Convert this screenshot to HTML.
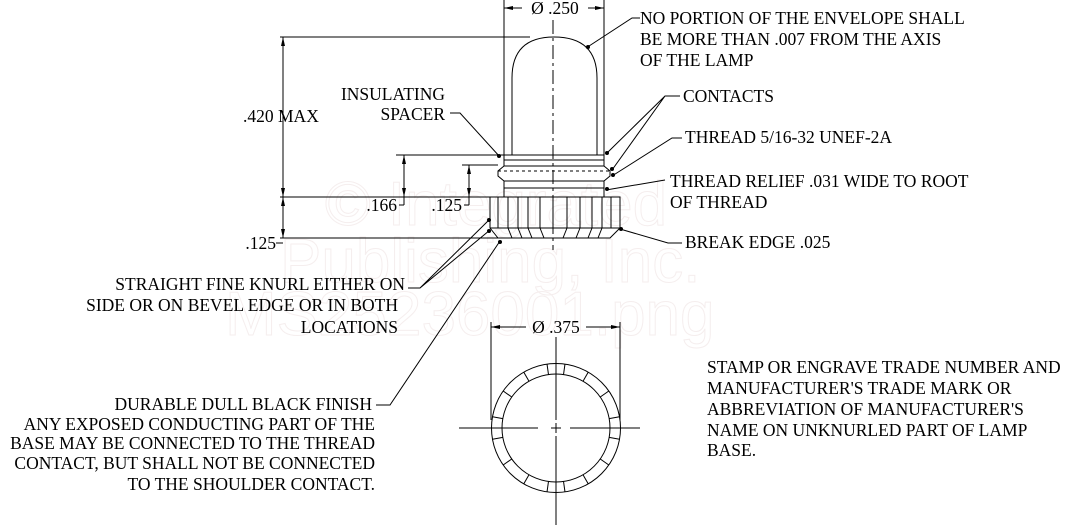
<!DOCTYPE html>
<html><head><style>
body{margin:0;background:#fff}
svg{display:block}
text{font-family:"Liberation Serif","Times New Roman","DejaVu Serif",serif;font-size:17.5px;fill:#000}
text.w{font-family:"Liberation Sans",sans-serif;font-size:62px;fill:none;stroke:#f5eeee;stroke-width:1}
</style></head><body>
<svg width="1071" height="525" viewBox="0 0 1071 525" xmlns="http://www.w3.org/2000/svg">
<text class="w" x="325" y="225">© Integrated</text><text class="w" x="280" y="282">Publishing, Inc.</text><text class="w" x="225" y="335">MS25236001.png</text>
<g stroke="#000" stroke-width="1" fill="none">
<line x1="504" y1="0" x2="504" y2="155"/><line x1="604" y1="0" x2="604" y2="155"/>
<line x1="504" y1="8" x2="522" y2="8"/><line x1="588" y1="8" x2="604" y2="8"/>
<path d="M512 155 L512 78 Q512 37 554 37 Q597 37 597 78 L597 155"/>
<line x1="553" y1="20" x2="553" y2="250" stroke-dasharray="14,4,3,4"/>
<rect x="504" y="155" width="100" height="11"/>
<line x1="504" y1="160" x2="604" y2="160"/>
<path d="M504 166 L498 171 L498 176 L504 181 L604 181 L610 176 L610 171 L604 166"/>
<line x1="498" y1="171" x2="610" y2="171" stroke-dasharray="3,3"/>
<line x1="504" y1="181" x2="504" y2="197"/><line x1="604" y1="181" x2="604" y2="197"/>
<line x1="504" y1="188" x2="604" y2="188"/>
<rect x="490" y="197" width="130" height="31"/>
<path d="M490 228 L498 238 L610 238 L620 228"/>
<g>
<line x1="498" y1="197" x2="498" y2="228"/><line x1="508" y1="197" x2="508" y2="228"/><line x1="518" y1="197" x2="518" y2="228"/><line x1="528" y1="197" x2="528" y2="228"/><line x1="540" y1="197" x2="540" y2="228"/><line x1="553" y1="197" x2="553" y2="228"/><line x1="567" y1="197" x2="567" y2="228"/><line x1="580" y1="197" x2="580" y2="228"/><line x1="592" y1="197" x2="592" y2="228"/><line x1="602" y1="197" x2="602" y2="228"/><line x1="611" y1="197" x2="611" y2="228"/>
<line x1="508" y1="228" x2="512" y2="238"/><line x1="518" y1="228" x2="522" y2="238"/><line x1="528" y1="228" x2="532" y2="238"/><line x1="540" y1="228" x2="544" y2="238"/><line x1="567" y1="228" x2="563" y2="238"/><line x1="580" y1="228" x2="576" y2="238"/><line x1="592" y1="228" x2="588" y2="238"/><line x1="602" y1="228" x2="598" y2="238"/>
</g>
<line x1="280" y1="37" x2="530" y2="37"/>
<line x1="283" y1="37" x2="283" y2="238"/>
<line x1="280" y1="197" x2="490" y2="197"/>
<line x1="280" y1="238" x2="498" y2="238"/>
<path d="M276 243 L283 243"/>
<line x1="396" y1="155" x2="504" y2="155"/><line x1="404" y1="155" x2="404" y2="205"/><path d="M399 205 L404 205"/>
<line x1="462" y1="165" x2="498" y2="165"/><line x1="469" y1="165" x2="469" y2="205"/><path d="M464 205 L469 205"/>
<path d="M640 18 L632 18 L586 48"/>
<path d="M680 96 L665 96 L606 154 M665 96 L612 170"/>
<path d="M682 138 L672 138 L612 176"/>
<path d="M665 180 L606 190"/>
<path d="M682 243 L668 243 L620 229"/>
<path d="M450 113 L460 113 L500 157"/>
<path d="M408 288 L420 288 L490 219 M420 288 L490 230"/>
<path d="M376 405 L390 405 L500 241"/>
<line x1="491" y1="322" x2="491" y2="420"/><line x1="620" y1="322" x2="620" y2="420"/>
<line x1="491" y1="327" x2="526" y2="327"/><line x1="586" y1="327" x2="620" y2="327"/>
<circle cx="556" cy="428" r="64.5"/><circle cx="556" cy="428" r="54"/>
<line x1="459" y1="428" x2="538" y2="428"/><line x1="551" y1="428" x2="561" y2="428"/><line x1="570" y1="428" x2="640" y2="428"/>
<line x1="556" y1="337" x2="556" y2="420"/><line x1="556" y1="423" x2="556" y2="433"/><line x1="556" y1="436" x2="556" y2="525"/>
</g>
<g stroke="#000" stroke-width="1">
<line x1="556" y1="363.5" x2="556" y2="374" transform="rotate(8 556 428)"/>
<line x1="556" y1="363.5" x2="556" y2="374" transform="rotate(-8 556 428)"/>
<line x1="556" y1="363.5" x2="556" y2="374" transform="rotate(30 556 428)"/>
<line x1="556" y1="363.5" x2="556" y2="374" transform="rotate(-30 556 428)"/>
<line x1="556" y1="363.5" x2="556" y2="374" transform="rotate(55 556 428)"/>
<line x1="556" y1="363.5" x2="556" y2="374" transform="rotate(-55 556 428)"/>
<line x1="556" y1="363.5" x2="556" y2="374" transform="rotate(80 556 428)"/>
<line x1="556" y1="363.5" x2="556" y2="374" transform="rotate(-80 556 428)"/>
<line x1="556" y1="363.5" x2="556" y2="374" transform="rotate(100 556 428)"/>
<line x1="556" y1="363.5" x2="556" y2="374" transform="rotate(-100 556 428)"/>
<line x1="556" y1="363.5" x2="556" y2="374" transform="rotate(125 556 428)"/>
<line x1="556" y1="363.5" x2="556" y2="374" transform="rotate(-125 556 428)"/>
<line x1="556" y1="363.5" x2="556" y2="374" transform="rotate(150 556 428)"/>
<line x1="556" y1="363.5" x2="556" y2="374" transform="rotate(-150 556 428)"/>
<line x1="556" y1="363.5" x2="556" y2="374" transform="rotate(172 556 428)"/>
<line x1="556" y1="363.5" x2="556" y2="374" transform="rotate(-172 556 428)"/>
</g>
<g fill="#000">
<path d="M504 8 l9 -2 v4z"/><path d="M604 8 l-9 -2 v4z"/>
<path d="M491 327 l9 -2 v4z"/><path d="M620 327 l-9 -2 v4z"/>
<path d="M283 37 l-2 9 h4z"/><path d="M283 197 l-2 -9 h4z"/><path d="M283 197 l-2 9 h4z"/><path d="M283 238 l-2 -9 h4z"/>
<path d="M404 155 l-2 9 h4z"/><path d="M404 197 l-2 -9 h4z"/>
<path d="M469 165 l-2 9 h4z"/><path d="M469 197 l-2 -9 h4z"/>
<circle cx="588" cy="47" r="2"/><circle cx="607" cy="153" r="2"/><circle cx="612" cy="169" r="2"/><circle cx="613" cy="175" r="2"/><circle cx="607" cy="189" r="2"/><circle cx="621" cy="229" r="2"/><circle cx="499" cy="156" r="2"/><circle cx="489" cy="220" r="2"/><circle cx="489" cy="231" r="2"/><circle cx="500" cy="242" r="2"/>
</g>
<text x="555" y="14" text-anchor="middle">Ø .250</text>
<text x="556" y="333" text-anchor="middle">Ø .375</text>
<text x="640" y="24">NO PORTION OF THE ENVELOPE SHALL</text>
<text x="640" y="45">BE MORE THAN .007 FROM THE AXIS</text>
<text x="640" y="66">OF THE LAMP</text>
<text x="683" y="102">CONTACTS</text>
<text x="685" y="143">THREAD 5/16-32 UNEF-2A</text>
<text x="670" y="187">THREAD RELIEF .031 WIDE TO ROOT</text>
<text x="670" y="208">OF THREAD</text>
<text x="685" y="248">BREAK EDGE .025</text>
<text x="445" y="100" text-anchor="end">INSULATING</text>
<text x="445" y="120" text-anchor="end">SPACER</text>
<text x="243" y="122">.420 MAX</text>
<text x="397" y="211" text-anchor="end">.166</text>
<text x="462" y="211" text-anchor="end">.125</text>
<text x="276" y="249" text-anchor="end">.125</text>
<text x="405" y="290" text-anchor="end">STRAIGHT FINE KNURL EITHER ON</text>
<text x="398" y="311" text-anchor="end">SIDE OR ON BEVEL EDGE OR IN BOTH</text>
<text x="398" y="333" text-anchor="end">LOCATIONS</text>
<text x="372" y="410" text-anchor="end">DURABLE DULL BLACK FINISH</text>
<text x="375" y="430" text-anchor="end">ANY EXPOSED CONDUCTING PART OF THE</text>
<text x="375" y="449" text-anchor="end">BASE MAY BE CONNECTED TO THE THREAD</text>
<text x="375" y="469" text-anchor="end">CONTACT, BUT SHALL NOT BE CONNECTED</text>
<text x="375" y="490" text-anchor="end">TO THE SHOULDER CONTACT.</text>
<text x="707" y="373">STAMP OR ENGRAVE TRADE NUMBER AND</text>
<text x="707" y="394">MANUFACTURER'S TRADE MARK OR</text>
<text x="707" y="415">ABBREVIATION OF MANUFACTURER'S</text>
<text x="707" y="436">NAME ON UNKNURLED PART OF LAMP</text>
<text x="707" y="456">BASE.</text>
</svg>
</body></html>
